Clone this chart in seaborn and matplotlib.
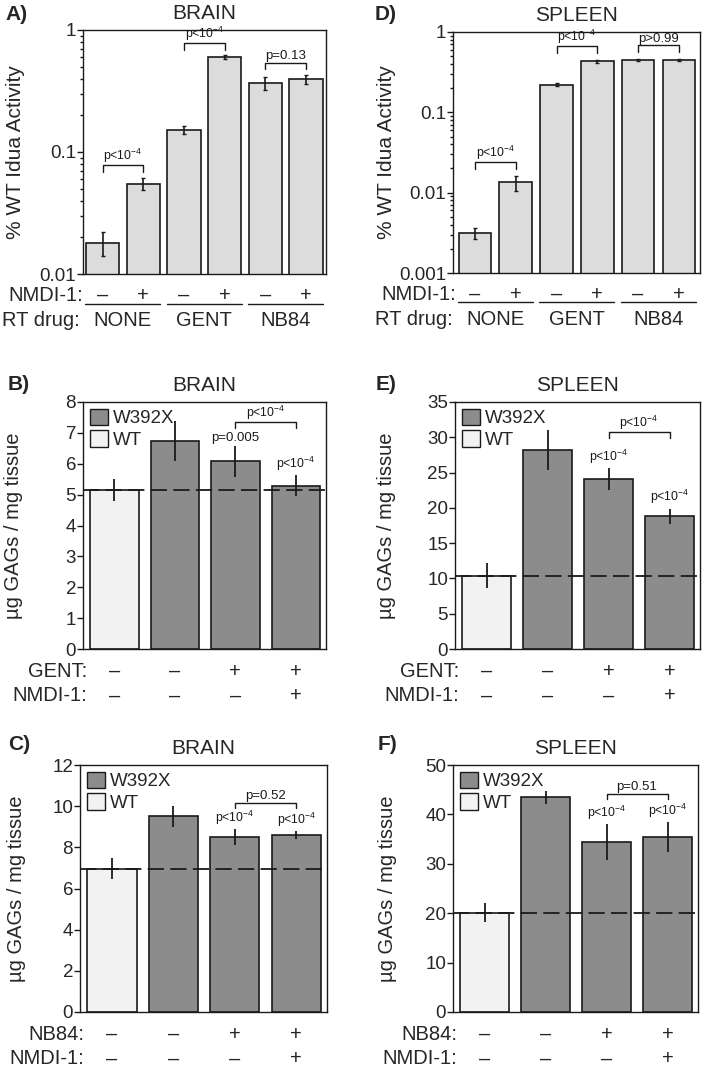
import numpy as np
import pandas as pd
import matplotlib
matplotlib.use("Agg")
import matplotlib.pyplot as plt
import matplotlib.ticker as mticker
import matplotlib.transforms as mtransforms
from matplotlib.patches import Patch
import seaborn as sns

# ── Data: Idua activity (log panels A, D) ──
idua_conditions = ["NONE-", "NONE+", "GENT-", "GENT+", "NB84-", "NB84+"]
idua_nmdi_signs = ["–", "+", "–", "+", "–", "+"]
rt_drugs = ["NONE", "GENT", "NB84"]

brain_idua = [0.018, 0.055, 0.151, 0.60, 0.365, 0.393]
brain_idua_err = [0.004, 0.006, 0.011, 0.025, 0.045, 0.033]
brain_idua_p = ["p<10$^{-4}$", "p<10$^{-4}$", "p=0.13"]
brain_idua_bracket = [0.078, 0.78, 0.54]

spleen_idua = [0.00315, 0.0134, 0.221, 0.431, 0.448, 0.448]
spleen_idua_err = [0.0005, 0.0029, 0.008, 0.015, 0.01, 0.01]
spleen_idua_p = ["p<10$^{-4}$", "p<10$^{-4}$", "p>0.99"]
spleen_idua_bracket = [0.024, 0.664, 0.68]

# ── Data: GAG storage (linear panels B, C, E, F) ──
gag_conditions = ["WT", "W392X", "W392X drug", "W392X drug+NMDI"]
gag_genotype = ["WT", "W392X", "W392X", "W392X"]
drug_signs = ["–", "–", "+", "+"]
gag_nmdi_signs = ["–", "–", "–", "+"]

brain_gent = [5.15, 6.75, 6.08, 5.29]
brain_gent_err = [0.35, 0.65, 0.5, 0.34]
brain_gent_p = ["", "", "p=0.005", "p<10$^{-4}$"]
brain_gent_pair = ("p<10$^{-4}$", 7.34)

spleen_gent = [10.4, 28.2, 24.1, 18.8]
spleen_gent_err = [1.8, 2.9, 1.5, 1.1]
spleen_gent_p = ["", "", "p<10$^{-4}$", "p<10$^{-4}$"]
spleen_gent_pair = ("p<10$^{-4}$", 30.7)

brain_nb84 = [6.97, 9.5, 8.5, 8.6]
brain_nb84_err = [0.5, 0.5, 0.4, 0.2]
brain_nb84_p = ["", "", "p<10$^{-4}$", "p<10$^{-4}$"]
brain_nb84_pair = ("p=0.52", 10.17)

spleen_nb84 = [20.1, 43.5, 34.4, 35.4]
spleen_nb84_err = [1.9, 1.3, 3.7, 3.1]
spleen_nb84_p = ["", "", "p<10$^{-4}$", "p<10$^{-4}$"]
spleen_nb84_pair = ("p=0.51", 44.2)

# ── Style ──
sns.set_theme(style="ticks")
plt.rcParams["font.family"] = ["Liberation Sans", "DejaVu Sans"]
plt.rcParams["mathtext.default"] = "regular"
plt.rcParams["axes.linewidth"] = 1.0

INK = "#1a1a1a"
IDUA_FILL = "#dcdcdc"
PALETTE = {"WT": "#f2f2f2", "W392X": "#8c8c8c"}
W, H = 706, 1068
FS_TICK = 13.5
FS_ROW = 14.5
FS_TITLE = 15

fig = plt.figure(figsize=(W / 100, H / 100), dpi=100)


def add_axes(l, t, r, b):
    return fig.add_axes([l / W, 1 - b / H, (r - l) / W, (b - t) / H])


def style_axes(ax):
    for s in ax.spines.values():
        s.set_visible(True)
        s.set_color(INK)
        s.set_linewidth(1.0)
    ax.tick_params(axis="y", which="major", direction="out", length=4, width=1,
                   labelsize=FS_TICK, pad=1, color=INK)
    ax.tick_params(axis="y", which="minor", direction="out", length=2.5, width=1, color=INK)
    ax.tick_params(axis="x", which="both", bottom=False, labelbottom=False)
    ax.set_xlabel("")


def p_size(text):
    return 9.5 if text.startswith(("p=", "p>")) else 8.8


def bracket(ax, x0, x1, y, leg, text):
    ax.plot([x0, x0, x1, x1], [y - leg, y, y, y - leg], color=INK, lw=1.0, clip_on=False)
    ax.annotate(text, ((x0 + x1) / 2, y), xytext=(0, 0.3), textcoords="offset points",
                ha="center", va="bottom", fontsize=p_size(text), color=INK)


def idua_panel(rect, vals, errs, pvals, brackets, title, xlim, width, ymin, leg_factor, ylabel_x):
    ax = add_axes(*rect)
    df = pd.DataFrame({"cond": idua_conditions, "val": vals})
    sns.barplot(data=df, x="cond", y="val", order=idua_conditions, color=IDUA_FILL,
                saturation=1, edgecolor=INK, linewidth=1.2, errorbar=None,
                width=width, ax=ax)
    ax.errorbar(np.arange(len(vals)), vals, yerr=errs, fmt="none", ecolor=INK,
                elinewidth=1.2, capsize=1.5, capthick=1.0)
    ax.set_yscale("log")
    ax.set_ylim(ymin, 1)
    ax.set_xlim(*xlim)
    ax.yaxis.set_major_formatter(mticker.FuncFormatter(lambda v, _: f"{v:g}"))
    ax.yaxis.set_minor_formatter(mticker.NullFormatter())
    style_axes(ax)
    ax.set_ylabel("% WT Idua Activity", fontsize=15)
    ax.yaxis.set_label_coords(ylabel_x, 0.5)
    ax.set_title(title, fontsize=FS_TITLE, pad=8)
    for i, (p, yb) in enumerate(zip(pvals, brackets)):
        bracket(ax, 2 * i, 2 * i + 1, yb, yb * (1 - leg_factor), p)
    # treatment rows under the axis
    tr = mtransforms.blended_transform_factory(ax.transData, ax.transAxes)
    ax.text(-0.47, -0.088, "NMDI-1:", transform=tr, ha="right", va="center", fontsize=FS_ROW)
    for i, s in enumerate(idua_nmdi_signs):
        ax.text(i, -0.088, s, transform=tr, ha="center", va="center", fontsize=FS_ROW)
    for g in range(len(rt_drugs)):
        c = 2 * g + 0.5
        ax.plot([c - 0.92, c + 0.92], [-0.122, -0.122], transform=tr, color=INK,
                lw=1.0, clip_on=False)
        ax.text(c, -0.192, rt_drugs[g], transform=tr, ha="center", va="center", fontsize=FS_ROW)
    ax.text(-0.55, -0.192, "RT drug:", transform=tr, ha="right", va="center", fontsize=FS_ROW)
    return ax


def gag_panel(rect, vals, errs, pvals, pair, title, yticks, drug, ylabel_x):
    ax = add_axes(*rect)
    df = pd.DataFrame({"cond": gag_conditions, "val": vals, "geno": gag_genotype})
    sns.barplot(data=df, x="cond", y="val", hue="geno", order=gag_conditions,
                palette=PALETTE, saturation=1, dodge=False, legend=False,
                edgecolor=INK, linewidth=1.2, errorbar=None, width=0.8, ax=ax)
    ax.axhline(vals[0], color=INK, lw=1.3, dashes=(9, 3.5), zorder=5)
    ax.errorbar(np.arange(len(vals)), vals, yerr=errs, fmt="none", ecolor=INK,
                elinewidth=1.3, capsize=0, zorder=6)
    ax.set_ylim(yticks[0], yticks[-1])
    ax.set_yticks(yticks)
    ax.set_xlim(-0.52, 3.5)
    style_axes(ax)
    ax.set_ylabel("µg GAGs / mg tissue", fontsize=14.5)
    ax.yaxis.set_label_coords(ylabel_x, 0.5)
    ax.set_title(title, fontsize=FS_TITLE, pad=8)
    for i, p in enumerate(pvals):
        if p:
            ax.annotate(p, (i, vals[i] + errs[i]), xytext=(0, 1.5), textcoords="offset points",
                        ha="center", va="bottom", fontsize=p_size(p), color=INK)
    span = yticks[-1] - yticks[0]
    bracket(ax, 2, 3, pair[1], span * 0.022, pair[0])
    handles = [Patch(facecolor=PALETTE["W392X"], edgecolor=INK, linewidth=1.0, label="W392X"),
               Patch(facecolor=PALETTE["WT"], edgecolor=INK, linewidth=1.0, label="WT")]
    ax.legend(handles=handles, loc="upper left", frameon=False, fontsize=13.5,
              handlelength=1.0, handleheight=1.0, handletextpad=0.25,
              labelspacing=0.15, borderaxespad=0.25, borderpad=0.1)
    tr = mtransforms.blended_transform_factory(ax.transData, ax.transAxes)
    ax.text(-0.45, -0.092, drug + ":", transform=tr, ha="right", va="center", fontsize=FS_ROW)
    ax.text(-0.45, -0.19, "NMDI-1:", transform=tr, ha="right", va="center", fontsize=FS_ROW)
    for i in range(len(vals)):
        ax.text(i, -0.092, drug_signs[i], transform=tr, ha="center", va="center", fontsize=FS_ROW)
        ax.text(i, -0.19, gag_nmdi_signs[i], transform=tr, ha="center", va="center", fontsize=FS_ROW)
    return ax


idua_panel((83, 30, 326, 274), brain_idua, brain_idua_err, brain_idua_p,
           brain_idua_bracket, "BRAIN", (-0.48, 5.49), 0.82, 0.01, 0.88, -0.24)
idua_panel((453, 32, 700, 273), spleen_idua, spleen_idua_err, spleen_idua_p,
           spleen_idua_bracket, "SPLEEN", (-0.54, 5.52), 0.8, 0.001, 0.83, -0.23)

gag_panel((83, 402, 326, 649), brain_gent, brain_gent_err, brain_gent_p, brain_gent_pair,
          "BRAIN", list(range(0, 9)), "GENT", -0.245)
gag_panel((455, 402, 700, 649), spleen_gent, spleen_gent_err, spleen_gent_p, spleen_gent_pair,
          "SPLEEN", list(range(0, 36, 5)), "GENT", -0.24)
gag_panel((80, 765, 327, 1012), brain_nb84, brain_nb84_err, brain_nb84_p, brain_nb84_pair,
          "BRAIN", list(range(0, 13, 2)), "NB84", -0.22)
gag_panel((453, 765, 698, 1012), spleen_nb84, spleen_nb84_err, spleen_nb84_p, spleen_nb84_pair,
          "SPLEEN", list(range(0, 51, 10)), "NB84", -0.23)

# panel letters
for letter, x, y in [("A)", 5, 14), ("D)", 375, 14), ("B)", 8, 385),
                     ("E)", 376, 385), ("C)", 8, 745), ("F)", 378, 745)]:
    fig.text(x / W, 1 - y / H, letter, fontsize=15, fontweight="bold", ha="left", va="center")

fig.savefig("out.png", dpi=100)
